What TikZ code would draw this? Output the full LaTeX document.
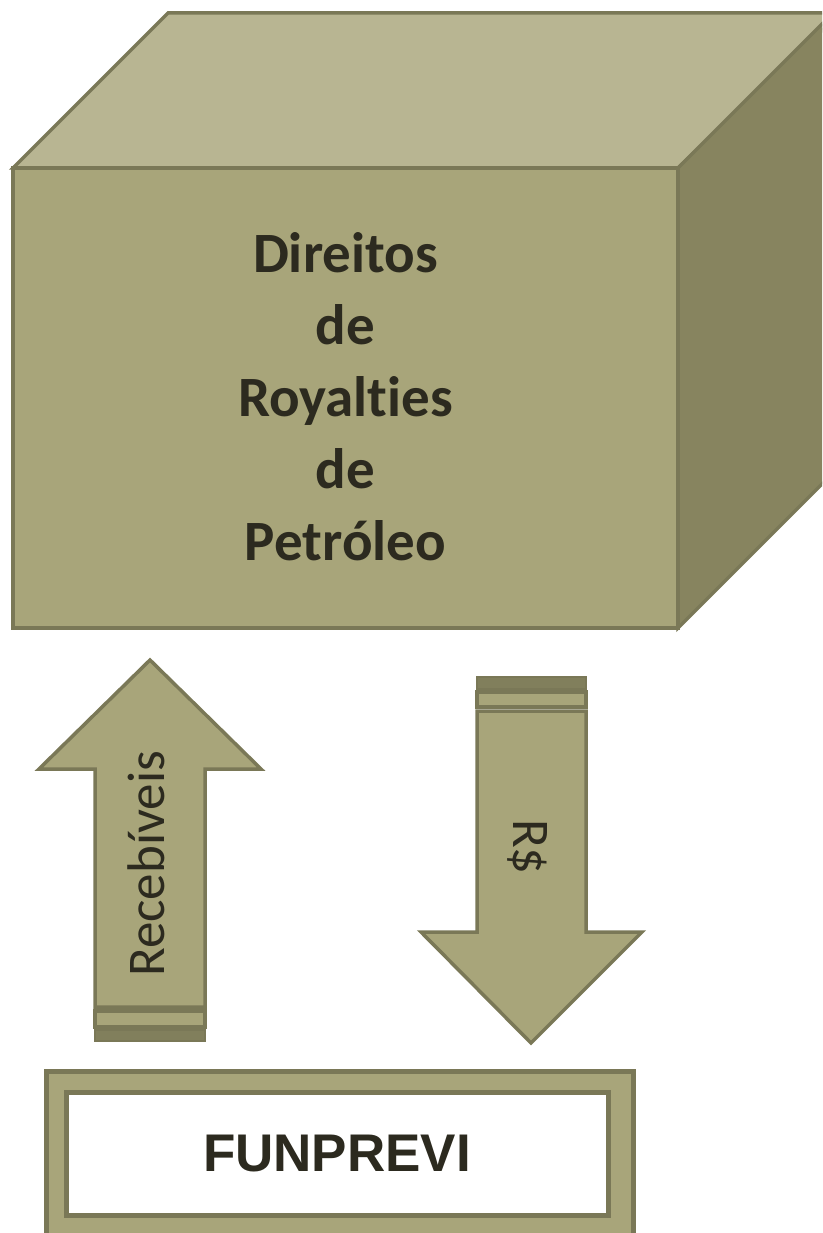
\documentclass[tikz,border=0pt]{standalone}
\usepackage{fontspec}
\newfontfamily\calibri[Ligatures={NoCommon,NoContextual}]{Carlito}
\newfontfamily\arialf{Liberation Sans}
\definecolor{topc}{HTML}{B8B592}
\definecolor{frontc}{HTML}{A8A57A}
\definecolor{rightc}{HTML}{87845F}
\definecolor{bordc}{HTML}{7A7857}
\definecolor{txtc}{HTML}{2C2A1F}
\tikzset{
  face/.style={draw=bordc, line width=3.5pt, line join=miter},
  arrowbody/.style={draw=bordc, fill=frontc, line width=3.5pt, line join=miter},
  stripewide/.style={draw=bordc, fill=frontc, line width=3.5pt},
  stripethin/.style={draw=bordc, fill=bordc!85!frontc, line width=2pt},
  cubetext/.style={align=center, inner sep=0pt, text=txtc,
    font=\calibri\bfseries\fontsize{57}{72}\selectfont},
  arrowtext/.style={inner sep=0pt, text=txtc, font=\calibri\fontsize{53}{53}\selectfont},
  boxtext/.style={inner sep=0pt, text=txtc, font=\arialf\bfseries\fontsize{53}{53}\selectfont}
}
\begin{document}
\begin{tikzpicture}[x=1pt,y=-1pt]
\useasboundingbox (0,0) rectangle (822,1233);
\begin{scope}
\clip (0,0) rectangle (822,1233);
% cube
\draw[face, fill=topc] (13,168) -- (168,13) -- (840,13) -- (678,168) -- cycle;
\draw[face, fill=rightc] (678,168) -- (840,6) -- (840,466) -- (678,628) -- cycle;
\draw[face, fill=frontc] (13,168) rectangle (678,628);
\coordinate (front) at (345.5,397);
\node[cubetext] (rights) at (front) {Direitos\\de\\Royalties\\de\\Petróleo};
% up arrow
\draw[arrowbody] (150,660) -- (261,769) -- (205,769) -- (205,1007) -- (95,1007) -- (95,769) -- (39,769) -- cycle;
\draw[stripewide] (95,1011) rectangle (205,1027);
\draw[stripethin] (95,1030) rectangle (205,1041);
\node[arrowtext, rotate=90, anchor=base] (rec) at (164,864) {Recebíveis};
% down arrow
\draw[arrowbody] (477,711) -- (586,711) -- (586,932) -- (642,932) -- (531,1043) -- (421,932) -- (477,932) -- cycle;
\draw[stripewide] (477,692) rectangle (586,707);
\draw[stripethin] (477,677) rectangle (586,689);
\node[arrowtext, rotate=-90, anchor=base] (rs) at (513,847) {R\$};
% FUNPREVI box
\node[draw=bordc, fill=frontc, line width=5pt, minimum width=587pt, minimum height=200pt, anchor=north west, inner sep=0pt] (outer) at (44,1069) {};
\node[draw=bordc, fill=white, line width=5pt, minimum width=542pt, minimum height=123pt, boxtext] (fun) at (337,1153.5) {FUNPREVI};
\end{scope}
\end{tikzpicture}
\end{document}
